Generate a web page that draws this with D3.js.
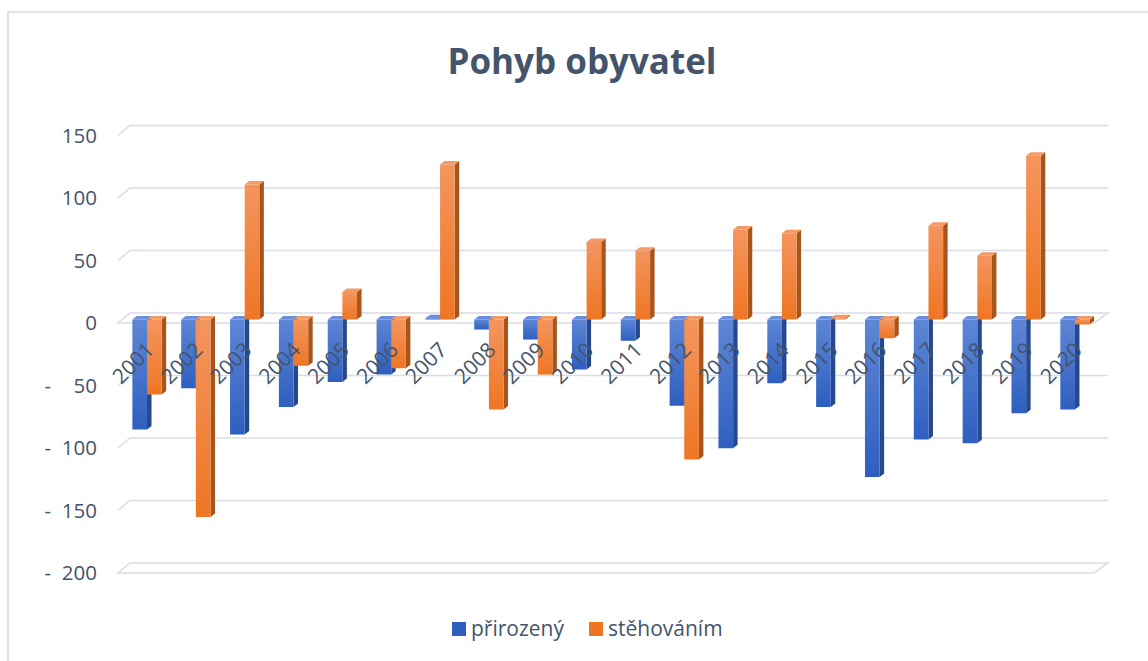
<!DOCTYPE html>
<html><head><meta charset="utf-8">
<script src="https://cdn.jsdelivr.net/npm/d3@7"></script>
<style>
html,body{margin:0;padding:0;background:#fff;}
svg{display:block;font-family:"Open Sans",sans-serif;}
</style></head>
<body>
<svg id="c" width="1148" height="661"></svg>
<script>
const years = ["2001","2002","2003","2004","2005","2006","2007","2008","2009","2010","2011","2012","2013","2014","2015","2016","2017","2018","2019","2020"];
const prirozeny = [-88,-55,-92,-70,-50,-44,1,-8,-16,-40,-17,-69,-103,-51,-70,-126,-96,-99,-75,-72];
const stehovanim = [-60,-158,108,-37,22,-39,124,-72,-44,62,55,-112,72,69,1,-15,75,51,131,-4];
const yTicks = [150,100,50,0,-50,-100,-150,-200];
const seriesNames = ["přirozený","stěhováním"];
const colors = {
  "přirozený": {top:"#5e86d6", bot:"#2e5fbf", side:"#25488f", cap:"#6b8fdc"},
  "stěhováním": {top:"#f4955e", bot:"#ee7623", side:"#a9541a", cap:"#f39a66"}
};
const textColor = "#44546a";

const svg = d3.select("#c");
const defs = svg.append("defs");
seriesNames.forEach((s,i)=>{
  const g = defs.append("linearGradient").attr("id","g"+i).attr("x1",0).attr("y1",0).attr("x2",0).attr("y2",1);
  g.append("stop").attr("offset","0%").attr("stop-color",colors[s].top);
  g.append("stop").attr("offset","100%").attr("stop-color",colors[s].bot);
});

// frame
svg.append("rect").attr("x",8).attr("y",12).attr("width",1160).attr("height",680)
  .attr("fill","none").attr("stroke","#d9d9d9").attr("stroke-width",1.5);

// title
svg.append("text").attr("x",582).attr("y",74).attr("text-anchor","middle")
  .attr("font-size",35).attr("font-weight",700).attr("fill",textColor).text("Pohyb obyvatel");

// 3D geometry
const depthX = 12, depthY = 10;
const wallLeft = 130, wallRight = 1108;
const y = d3.scaleLinear().domain([-200,150]).range([563,125.5]);
const barShift = 6.5;
const yb = v => y(v) + barShift;

const x = d3.scaleBand().domain(years).range([122.6,1099.4]).padding(0);
const bw = x.bandwidth()*0.3;
const dx = 4.5, dy = -3.5;

const grid = svg.append("g").attr("stroke","#d9dde4").attr("stroke-width",1.6).attr("fill","none");
yTicks.forEach(t=>{
  const yy = y(t);
  if (t===0 || t===-200) {
    grid.append("path").attr("d",`M${wallLeft-depthX},${yy+depthY}L${wallRight-depthX-2},${yy+depthY}L${wallRight},${yy}L${wallLeft},${yy}Z`);
  } else {
    grid.append("path").attr("d",`M${wallLeft-depthX},${yy+depthY}L${wallLeft},${yy}L${wallRight},${yy}`);
  }
});

// y labels
const yl = svg.append("g").attr("font-size",20.5).attr("fill",textColor).attr("text-anchor","end");
yTicks.forEach(t=>{
  const tx = yl.append("text").attr("y",y(t)+depthY).attr("dy","0.35em");
  if (t<0) {
    tx.append("tspan").attr("x",51).text("-");
    tx.append("tspan").attr("x",97).text(" "+Math.abs(t));
  } else {
    tx.append("tspan").attr("x",97).text(String(t));
  }
});

// bars
const bars = svg.append("g");
years.forEach((yr,i)=>{
  [prirozeny[i], stehovanim[i]].forEach((v,si)=>{
    const s = seriesNames[si];
    const x0 = x(yr) + x.bandwidth()/2 - bw + si*bw;
    const x1 = x0 + bw;
    const yTop = Math.min(yb(0), yb(v));
    const yBot = Math.max(yb(0), yb(v));
    const g = bars.append("g");
    g.append("path").attr("d",`M${x1},${yTop}L${x1+dx},${yTop+dy}L${x1+dx},${yBot+dy}L${x1},${yBot}Z`).attr("fill",colors[s].side);
    g.append("path").attr("d",`M${x0},${yTop}L${x0+dx},${yTop+dy}L${x1+dx},${yTop+dy}L${x1},${yTop}Z`).attr("fill",colors[s].cap);
    g.append("rect").attr("x",x0).attr("y",yTop).attr("width",bw).attr("height",Math.max(0.01,yBot-yTop)).attr("fill",`url(#g${si})`);
  });
});

// x labels
const xl = svg.append("g").attr("font-size",21).attr("fill",textColor).attr("text-anchor","end");
years.forEach(yr=>{
  const cx = x(yr)+x.bandwidth()/2 + 3;
  const cy = 346;
  xl.append("text").attr("transform",`translate(${cx},${cy}) rotate(-45)`).attr("dy","0.35em").text(yr);
});

// legend
const lg = svg.append("g").attr("font-size",21).attr("fill",textColor);
const legendX = [452, 589];
seriesNames.forEach((s,i)=>{
  lg.append("rect").attr("x",legendX[i]).attr("y",622).attr("width",14).attr("height",14).attr("fill",colors[s].bot);
  lg.append("text").attr("x",legendX[i]+19).attr("y",629).attr("dy","0.35em").text(s);
});
</script>
</body></html>
